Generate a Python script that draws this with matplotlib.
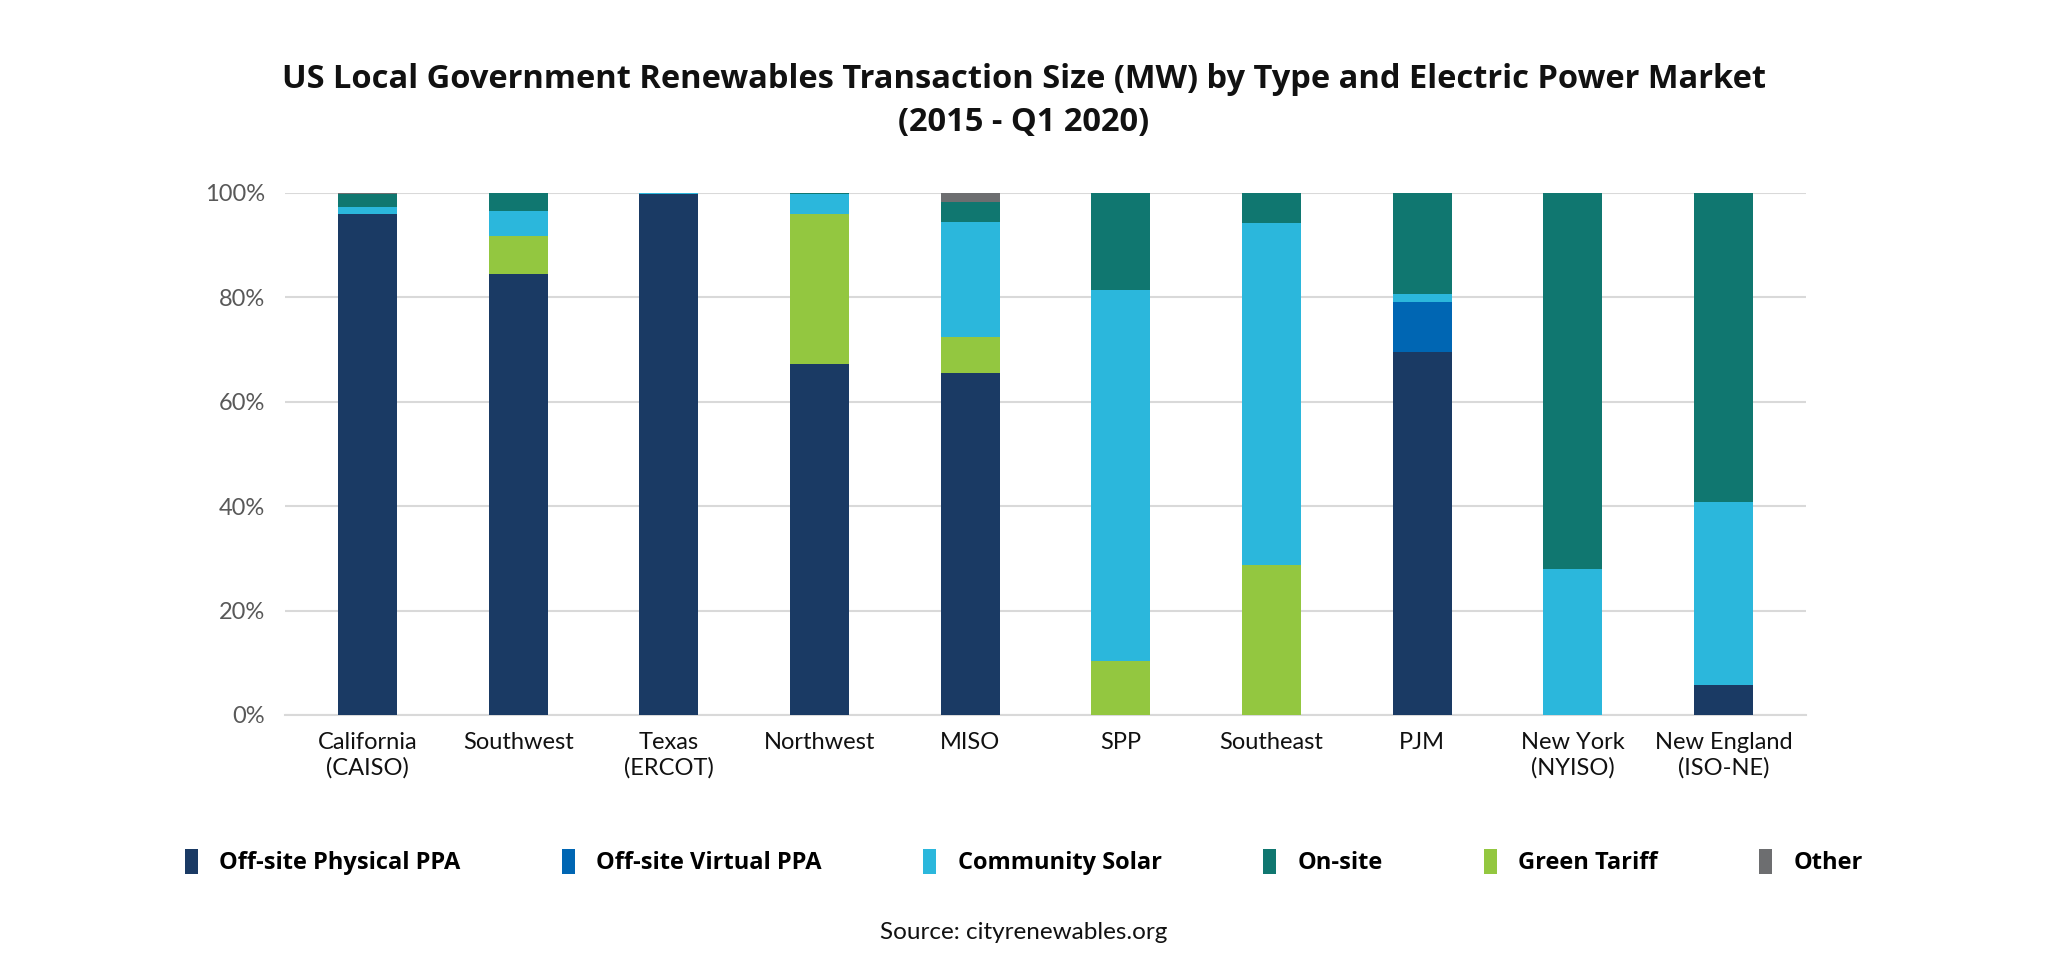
import matplotlib.pyplot as plt
import numpy as np

plt.rcParams['font.family'] = ['Lato', 'DejaVu Sans']

# markets (x categories)
markets = ['California\n(CAISO)', 'Southwest', 'Texas\n(ERCOT)', 'Northwest', 'MISO',
           'SPP', 'Southeast', 'PJM', 'New York\n(NYISO)', 'New England\n(ISO-NE)']

# share of transaction size (%) per type
physical_ppa = [96.0, 84.5, 99.7, 67.2, 65.4, 0, 0, 69.6, 0, 5.8]
virtual_ppa = [0, 0, 0, 0, 0, 0, 0, 9.4, 0, 0]
community_solar = [1.3, 4.8, 0.3, 3.8, 22.2, 71.1, 65.5, 1.6, 28.0, 35.0]
on_site = [2.5, 3.4, 0, 0.3, 3.8, 18.6, 5.8, 19.4, 72.0, 59.2]
green_tariff = [0, 7.3, 0, 28.7, 6.9, 10.3, 28.7, 0, 0, 0]
other = [0.2, 0, 0, 0, 1.7, 0, 0, 0, 0, 0]

series = [
    ('Off-site Physical PPA', physical_ppa, '#1a3a64'),
    ('Off-site Virtual PPA', virtual_ppa, '#0066b3'),
    ('Community Solar', community_solar, '#2bb7dc'),
    ('On-site', on_site, '#107770'),
    ('Green Tariff', green_tariff, '#93c740'),
    ('Other', other, '#6d6e70'),
]

# stacking order from the bottom of each bar
stack_order = ['Off-site Physical PPA', 'Off-site Virtual PPA', 'Green Tariff',
               'Community Solar', 'On-site', 'Other']

fig = plt.figure(figsize=(20.48, 9.74), dpi=100)
ax = fig.add_axes([0.139, 0.266, 0.743, 0.536])

x = np.arange(len(markets))
bottom = np.zeros(len(markets))
lookup = {name: (vals, col) for name, vals, col in series}
bars = {}
for name in stack_order:
    vals, col = lookup[name]
    vals = np.array(vals, dtype=float)
    bars[name] = ax.bar(x, vals, width=0.39, bottom=bottom, color=col,
                        edgecolor='none', zorder=3)
    bottom += vals

ax.set_ylim(0, 100)
ax.set_xlim(-0.55, len(markets) - 0.45)
ax.set_yticks(np.arange(0, 101, 20))
ax.set_yticklabels([f'{v}%' for v in range(0, 101, 20)])
ax.set_xticks(x)
ax.set_xticklabels(markets, fontsize=17, color='#111111', linespacing=1.25)
ax.tick_params(axis='y', labelsize=17, labelcolor='#595959', length=0, pad=14)
ax.tick_params(axis='x', length=0, pad=12)
ax.grid(axis='y', color='#d9d9d9', linewidth=1.5, zorder=0)
for s in ['top', 'right', 'left']:
    ax.spines[s].set_visible(False)
ax.spines['bottom'].set_color('#d9d9d9')
ax.spines['bottom'].set_linewidth(1.5)

fig.text(0.5, 0.935, 'US Local Government Renewables Transaction Size (MW) by Type and Electric Power Market\n(2015 - Q1 2020)',
         ha='center', va='top', fontsize=23.5, fontweight='bold', color='#111111',
         linespacing=1.4, family=['Open Sans', 'DejaVu Sans'])

handles = [bars[name] for name, _, _ in series]
labels = [name for name, _, _ in series]
leg = fig.legend(handles, labels, loc='center', bbox_to_anchor=(0.5, 0.115), ncol=6,
                 frameon=False, handlelength=0.55, handleheight=1.3, handletextpad=0.9,
                 columnspacing=4.3,
                 prop={'size': 17, 'weight': 'bold', 'family': ['Open Sans', 'DejaVu Sans']})

fig.text(0.5, 0.043, 'Source: cityrenewables.org', ha='center', va='center',
         fontsize=17.5, color='#111111')

fig.savefig('out.png', dpi=100)
